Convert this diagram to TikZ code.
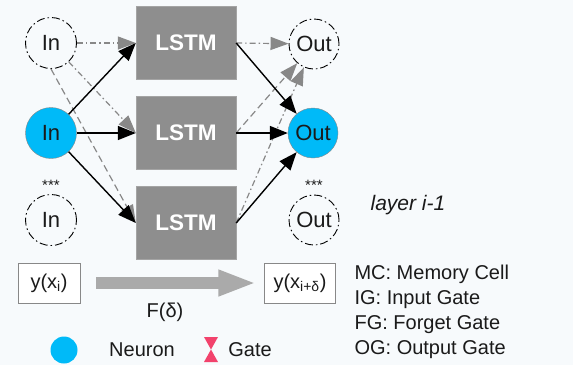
\documentclass[tikz,border=0pt]{standalone}
\usepackage{fontspec}
\setmainfont{Liberation Sans}
\usetikzlibrary{arrows.meta,positioning}
\definecolor{lsBack}{HTML}{F7FAFC}
\definecolor{lsCell}{HTML}{8E8E8E}
\definecolor{lsCellEdge}{HTML}{A4A4A4}
\definecolor{lsNeuron}{HTML}{00BAF8}
\definecolor{lsGray}{HTML}{888888}
\definecolor{lsFlow}{HTML}{AAAAAA}
\definecolor{lsGate}{HTML}{F2426C}
\definecolor{lsText}{HTML}{1A1A1A}

\begin{document}
\begin{tikzpicture}[x=1pt,y=-1pt,text=lsText,
    cell/.style={draw=lsCellEdge, fill=lsCell, minimum width=100pt, minimum height=73pt, text=white, font=\fontsize{22.5}{26}\selectfont\bfseries},
    neuron/.style={circle, draw=lsGray, fill=lsNeuron, minimum size=51pt, inner sep=0pt, font=\fontsize{22}{26}\selectfont},
    ghost/.style={circle, draw=black, line width=0.9pt, dash pattern=on 8pt off 3pt on 1.5pt off 3pt, minimum size=51pt, inner sep=0pt, font=\fontsize{22}{26}\selectfont},
    value/.style={draw=lsGray, fill=white, minimum height=40pt, inner sep=3pt, font=\fontsize{20}{24}\selectfont},
    fwd/.style={-{Triangle[length=18pt,width=14pt]}, line width=1.4pt, black},
    side/.style={-{Triangle[length=18pt,width=13pt]}, line width=1.2pt, lsGray},
    dashdot/.style={dash pattern=on 6pt off 3pt on 1.5pt off 3pt},
    dashlong/.style={dash pattern=on 7pt off 4pt},
    flow/.style={-{Triangle[length=38pt,width=24pt]}, line width=12pt, lsFlow, shorten <=16pt, shorten >=8pt},
    stars/.style={font=\fontsize{15}{18}\selectfont},
    legend/.style={font=\fontsize{20}{24}\selectfont}]

    % Canvas
    \useasboundingbox (0,0) rectangle (573,365);
    \fill[lsBack] (0,0) rectangle (573,365);

    % Input layer
    \node[ghost] at (51,43) (topin) {In};
    \node[neuron] at (51,133) (in) {In};
    \node[stars] at (51,185) (instars) {***};
    \node[ghost] at (51,220) (botin) {In};

    % Memory cells
    \node[cell] at (186,43) (lstma) {LSTM};
    \node[cell] at (186,133) (lstmb) {LSTM};
    \node[cell] at (186,223) (lstmc) {LSTM};

    % Output layer
    \node[ghost, minimum size=50pt] at (314,44) (topout) {Out};
    \node[neuron, minimum size=50pt] at (313,133) (out) {Out};
    \node[stars] at (314,185) (outstars) {***};
    \node[ghost, minimum size=50pt] at (314,220) (botout) {Out};
    \node[font=\fontsize{21}{25}\selectfont\itshape] at (408,205) (layer) {layer i-1};

    % Arrows into the cells
    \draw[side, dashdot] (topin) -- (lstma.west);
    \draw[side, dashdot] (topin) -- (lstmb.west);
    \draw[side, dashlong] (topin.south) -- (lstmc.west);
    \draw[fwd] (in) -- (lstma.west);
    \draw[fwd] (in) -- (lstmb.west);
    \draw[fwd] (in) -- (lstmc.west);

    % Arrows out of the cells
    \draw[side, dashdot] (lstma.east) -- (topout);
    \draw[side, dashlong] (lstmb.east) -- (topout);
    \draw[side, dashdot] (lstmc.east) -- (topout);
    \draw[fwd] (lstma.east) -- (out);
    \draw[fwd] (lstmb.east) -- (out);
    \draw[fwd] (lstmc.east) -- (out);

    % Prediction step
    \node[value, minimum width=62pt] at (49,283) (yi) {y(x\textsubscript{i})};
    \node[value, minimum width=71pt] at (300,283) (yd) {y(x\textsubscript{i+δ})};
    \draw[flow] (yi) -- (yd);
    \node[legend] at (165,312) (fdelta) {F(δ)};

    % Legend
    \node[circle, fill=lsNeuron, minimum size=27pt, inner sep=0pt] at (64,350) (keyneuron) {};
    \node[legend] at (142,350) (neurontext) {Neuron};
    \coordinate (keygate) at (211,349.5);
    \fill[lsGate] ([shift={(-7,-12.5)}]keygate) -- ([shift={(7,-12.5)}]keygate) -- (keygate) -- cycle;
    \fill[lsGate] ([shift={(-7,12.5)}]keygate) -- ([shift={(7,12.5)}]keygate) -- (keygate) -- cycle;
    \node[legend] at (250,350) (gatetext) {Gate};
    \node[legend, anchor=west, align=left, font=\fontsize{20}{25}\selectfont] at (351,312) (abbrev) {MC: Memory Cell\\IG: Input Gate\\FG: Forget Gate\\OG: Output Gate};
\end{tikzpicture}
\end{document}
